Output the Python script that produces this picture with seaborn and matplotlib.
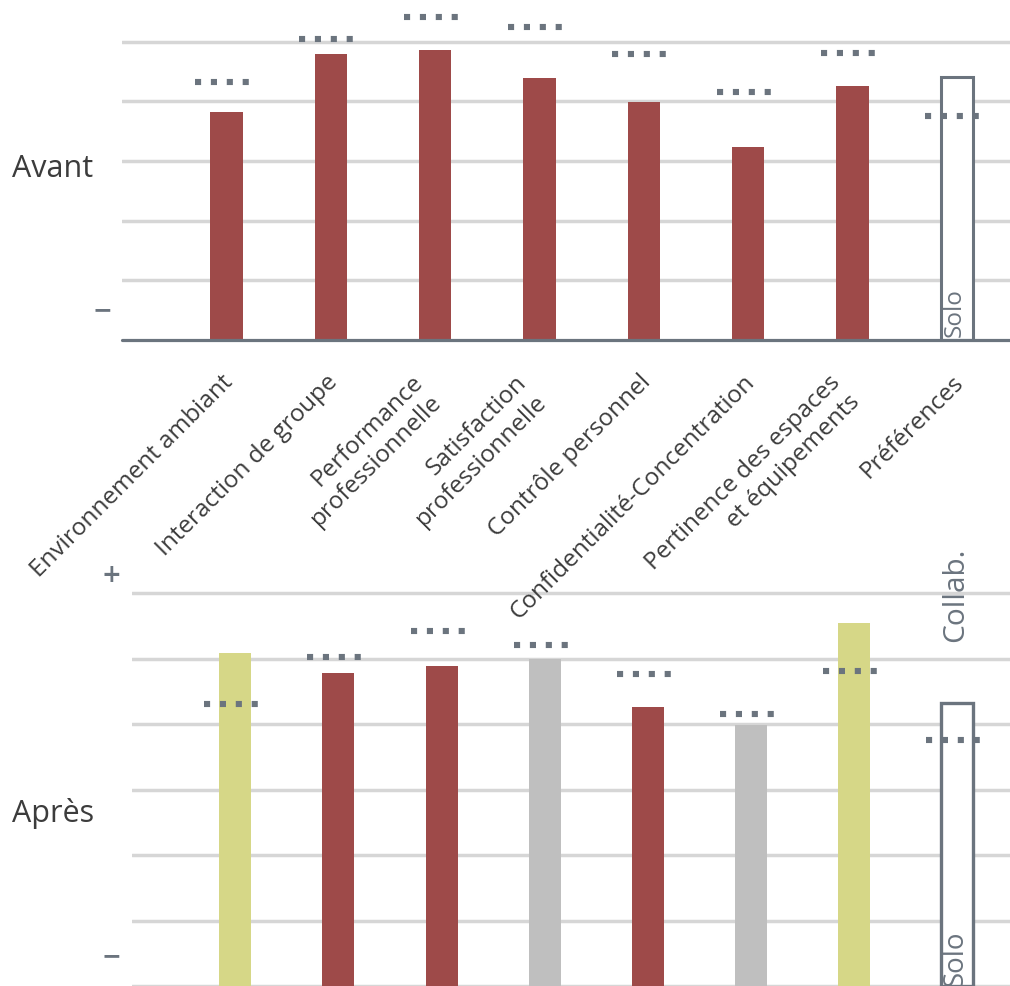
"""
Avant / Après - profil des scores par dimension
Deux panneaux de barres avec repères pointillés (référence) et une barre
'Préférences' tracée en contour (Solo <-> Collab.).
"""

import matplotlib
matplotlib.use("Agg")
import matplotlib.pyplot as plt
import matplotlib.transforms as mtransforms
import numpy as np
import pandas as pd
import seaborn as sns

# --- data ------------------------------------------------------------------
categories = ['Environnement ambiant', 'Interaction de groupe',
              'Performance\nprofessionnelle', 'Satisfaction\nprofessionnelle',
              'Contrôle personnel', 'Confidentialité-Concentration',
              'Pertinence des espaces\net équipements', 'Préférences']

avant_scores = [3.83, 4.80, 4.87, 4.40, 3.99, 3.24, 4.26, 4.41]
avant_bench = [4.33, 5.04, 5.42, 5.25, 4.80, 4.16, 4.82, 3.76]
avant_kind = ['red', 'red', 'red', 'red', 'red', 'red', 'red', 'pref']

apres_scores = [5.08, 4.78, 4.89, 4.99, 4.27, 3.98, 5.54, 4.32]
apres_bench = [4.31, 5.02, 5.42, 5.21, 4.76, 4.15, 4.81, 3.76]
apres_kind = ['yellow', 'red', 'red', 'grey', 'red', 'grey', 'yellow', 'pref']

# --- style -----------------------------------------------------------------
kind_colors = {'red': '#9e4a49', 'yellow': '#d6d787', 'grey': '#bfbfbf', 'pref': 'white'}
OUTLINE = '#6b747e'
GRID = '#d6d6d6'
TEXT = '#3c3c3c'

sns.set_theme(style='white')
plt.rcParams['font.family'] = ['Open Sans', 'DejaVu Sans']

W, H = 1010, 986
fig = plt.figure(figsize=(W / 100, H / 100), dpi=100)

# lower panel first so the rotated labels of the upper panel draw over it
ax_bot = fig.add_axes([132 / W, 0, 878 / W, 432 / H])
ax_top = fig.add_axes([122 / W, (H - 340) / H, 888 / W, 334 / H])


def draw_panel(ax, scores, bench, kinds, ylim, grid_levels, edge_lw):
    df = pd.DataFrame({'categorie': categories, 'score': scores, 'kind': kinds})
    palette = {c: kind_colors[k] for c, k in zip(categories, kinds)}

    for g in grid_levels:
        ax.axhline(g, color=GRID, lw=2.5, zorder=0)

    sns.barplot(data=df, x='categorie', y='score', hue='categorie',
                palette=palette, width=0.31, saturation=1, legend=False,
                linewidth=0, ax=ax, zorder=2)

    # outlined 'Préférences' bar
    for patch in ax.patches:
        idx = int(round(patch.get_x() + patch.get_width() / 2))
        if kinds[idx] == 'pref':
            patch.set_edgecolor(OUTLINE)
            patch.set_linewidth(edge_lw)

    # benchmark markers: four square dots per category
    for i, b in enumerate(bench):
        ax.plot([i - 0.30, i + 0.24], [b, b], color=OUTLINE, lw=4.4,
                linestyle=(0, (1, 1.6)), dash_capstyle='butt', zorder=4)

    ax.set_xlim(-1.0, 7.51)
    ax.set_ylim(*ylim)
    ax.set_xlabel('')
    ax.set_ylabel('')
    for s in ax.spines.values():
        s.set_visible(False)
    ax.tick_params(length=0)


draw_panel(ax_top, avant_scores, avant_bench, avant_kind, (0, 5.6), range(1, 6), 2.2)
draw_panel(ax_bot, apres_scores, apres_bench, apres_kind, (0, 6.6), range(0, 7), 2.4)

# baseline of the upper panel
ax_top.axhline(0, color=OUTLINE, lw=2.3, zorder=5, clip_on=False)

# category labels under the upper panel
ax_top.set_xticks(range(len(categories)))
ax_top.set_xticklabels(categories, rotation=45, ha='right', fontsize=17.5, color=TEXT)
ax_top.tick_params(axis='x', pad=22)
shift = mtransforms.ScaledTranslation(12 / 100, 0, fig.dpi_scale_trans)
for lab in ax_top.get_xticklabels():
    lab.set_transform(lab.get_transform() + shift)
ax_bot.set_xticks([])

# '+' / '-' markers on the value axis
ax_top.set_yticks([0.55], labels=['−'])
ax_bot.set_yticks([0.49, 6.32], labels=['−', '+'])
for ax, pad in ((ax_top, 7), (ax_bot, 8)):
    ax.tick_params(axis='y', pad=pad, labelsize=17, labelcolor=OUTLINE)
    for lab in ax.get_yticklabels():
        lab.set_family('DejaVu Sans')
        lab.set_fontweight('bold')

# Solo / Collab. annotations on the preference bar
ax_top.text(6.98, 0.05, 'Solo', rotation=90, ha='center', va='bottom',
            fontsize=17.5, color=OUTLINE, zorder=6)
ax_bot.text(6.98, 0.0, 'Solo', rotation=90, ha='center', va='bottom',
            fontsize=20, color=OUTLINE, zorder=6)
ax_bot.text(6.98, 5.98, 'Collab.', rotation=90, ha='center', va='center',
            fontsize=21.5, color=OUTLINE, clip_on=False, zorder=6)

# panel titles
fig.text(12 / W, 1 - 177 / H, 'Avant', fontsize=22, color=TEXT, va='baseline')
fig.text(12 / W, 1 - 822 / H, 'Après', fontsize=22, color=TEXT, va='baseline')

fig.savefig('out.png', dpi=100)
